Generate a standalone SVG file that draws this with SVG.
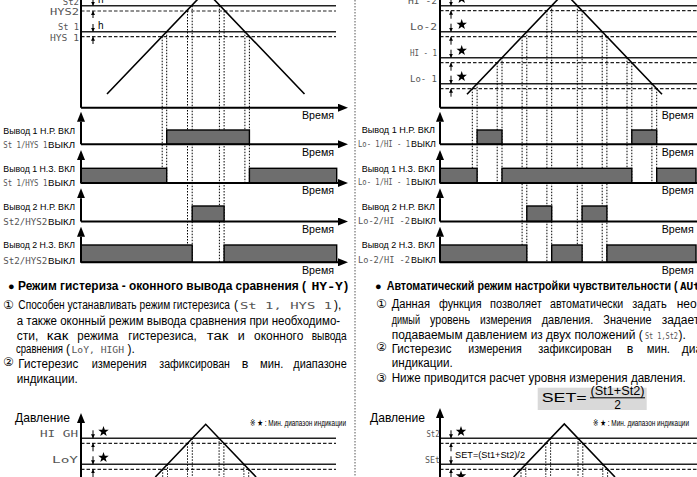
<svg xmlns="http://www.w3.org/2000/svg" width="697" height="477" viewBox="0 0 697 477">
<style>
.ax{stroke:#000;stroke-width:2;fill:none}
.lv{stroke:#222;stroke-width:1.4}
.ds{stroke:#222;stroke-width:1.2;stroke-dasharray:3.5 2}
.dt{stroke:#000;stroke-width:1;stroke-dasharray:1.5 1.5}
.box{fill:#6e6e6e;stroke:#000;stroke-width:1.4}
.tri{stroke:#000;stroke-width:1.6;fill:none}
.ha{stroke:#000;stroke-width:1}
.t{font-family:"Liberation Sans",Arial,"DejaVu Sans","Noto Sans CJK JP",sans-serif;fill:#000}
.p{font-size:12px}
.lb{font-size:9.5px}
.tm{font-size:10.5px}
.hd{font-size:12.5px;font-weight:bold}
.seg{font-family:"DejaVu Sans Mono",monospace;font-size:9px;fill:#555}
.segb{font-family:"DejaVu Sans Mono",monospace;font-size:11px;font-weight:bold;fill:#000}
</style>
<defs>
<marker id="ar" viewBox="0 0 10 8" refX="0" refY="4" markerWidth="10" markerHeight="8" markerUnits="userSpaceOnUse" orient="auto"><path d="M0,0 L10,4 L0,8 z" fill="#000"/></marker>
<marker id="sa" viewBox="0 0 4 4" refX="4" refY="2" markerWidth="4" markerHeight="4" markerUnits="userSpaceOnUse" orient="auto"><path d="M0,0 L4,2 L0,4 z" fill="#000"/></marker>
<path id="star" d="M0,-5.5 L1.29,-1.78 L5.23,-1.7 L2.09,0.68 L3.23,4.45 L0,2.2 L-3.23,4.45 L-2.09,0.68 L-5.23,-1.7 L-1.29,-1.78 Z" fill="#000"/>
</defs>
<rect width="697" height="477" fill="#fff"/>

<!-- separator -->
<line id="separator" x1="355" y1="0" x2="355" y2="477" stroke="#555" stroke-width="1" stroke-dasharray="1.5 1.5"/>

<!-- LEFT TOP CHART -->
<g id="left-top-chart">
<line class="lv" x1="81" y1="5.7" x2="336" y2="5.7"/>
<line class="ds" x1="81" y1="11" x2="336" y2="11"/>
<line class="lv" x1="81" y1="31.7" x2="336" y2="31.7"/>
<line class="ds" x1="81" y1="36.7" x2="336" y2="36.7"/>
<g class="dt">
<line x1="162.2" y1="36.7" x2="162.2" y2="183"/>
<line x1="166.7" y1="31.7" x2="166.7" y2="183"/>
<line x1="187.5" y1="11" x2="187.5" y2="262"/>
<line x1="192.2" y1="5.7" x2="192.2" y2="262"/>
<line x1="219.4" y1="5.7" x2="219.4" y2="262"/>
<line x1="224.1" y1="11" x2="224.1" y2="262"/>
<line x1="244.9" y1="31.7" x2="244.9" y2="183"/>
<line x1="249.4" y1="36.7" x2="249.4" y2="183"/>
</g>
<polyline class="tri" points="107,94 205.8,-9.2 304.5,94"/>
<line class="ax" x1="81" y1="107.7" x2="81" y2="-20"/>
<line class="ax" x1="81" y1="107.7" x2="338" y2="107.7" marker-end="url(#ar)"/>
<g class="ha">
<line x1="93" y1="-3" x2="93" y2="5.7" marker-end="url(#sa)"/>
<line x1="93" y1="18" x2="93" y2="11" marker-end="url(#sa)"/>
<line x1="93" y1="24" x2="93" y2="31.7" marker-end="url(#sa)"/>
<line x1="93" y1="44" x2="93" y2="36.7" marker-end="url(#sa)"/>
</g>
<text class="t" x="98" y="3" font-size="10">h</text>
<text class="t" x="98" y="29" font-size="10">h</text>
<text class="seg" x="79" y="5" text-anchor="end">St2</text>
<text class="seg" x="50" y="15" textLength="29" lengthAdjust="spacingAndGlyphs">HYS2</text>
<text class="seg" x="58" y="29.5" textLength="21" lengthAdjust="spacingAndGlyphs">St 1</text>
<text class="seg" x="50" y="40.5" textLength="29" lengthAdjust="spacingAndGlyphs">HYS 1</text>
<text class="t tm" x="302" y="119" textLength="32" lengthAdjust="spacingAndGlyphs">Время</text>
</g>

<!-- LEFT OUTPUT CHARTS -->
<g id="left-out1">
<rect class="box" x="166.7" y="130" width="82.7" height="14.3"/>
<line class="ax" x1="81" y1="144.3" x2="81" y2="121.7" marker-end="url(#ar)"/>
<line class="ax" x1="81" y1="144.3" x2="338" y2="144.3" marker-end="url(#ar)"/>
<text class="t lb" x="3.3" y="133.5" textLength="71.7" lengthAdjust="spacingAndGlyphs">Вывод 1 Н.Р. ВКЛ</text>
<text class="seg" x="3.3" y="147.5" textLength="44" lengthAdjust="spacingAndGlyphs">St 1/HYS 1</text>
<text class="t lb" x="48" y="147.5" textLength="27" lengthAdjust="spacingAndGlyphs">ВЫКЛ</text>
<text class="t tm" x="302" y="155.8" textLength="32" lengthAdjust="spacingAndGlyphs">Время</text>
</g>
<g id="left-out2">
<rect class="box" x="81" y="168.3" width="85.7" height="14.7"/>
<rect class="box" x="249.4" y="168.3" width="87.3" height="14.7"/>
<line class="ax" x1="81" y1="183" x2="81" y2="160" marker-end="url(#ar)"/>
<line class="ax" x1="81" y1="183" x2="338" y2="183" marker-end="url(#ar)"/>
<text class="t lb" x="3.3" y="171.5" textLength="71.7" lengthAdjust="spacingAndGlyphs">Вывод 1 Н.З. ВКЛ</text>
<text class="seg" x="3.3" y="186" textLength="44" lengthAdjust="spacingAndGlyphs">St 1/HYS 1</text>
<text class="t lb" x="48" y="186" textLength="27" lengthAdjust="spacingAndGlyphs">ВЫКЛ</text>
<text class="t tm" x="302" y="194.3" textLength="32" lengthAdjust="spacingAndGlyphs">Время</text>
</g>
<g id="left-out3">
<rect class="box" x="192.2" y="206" width="31.9" height="15.5"/>
<line class="ax" x1="81" y1="221.5" x2="81" y2="198.3" marker-end="url(#ar)"/>
<line class="ax" x1="81" y1="221.5" x2="338" y2="221.5" marker-end="url(#ar)"/>
<text class="t lb" x="3.3" y="209.5" textLength="71.7" lengthAdjust="spacingAndGlyphs">Вывод 2 Н.Р. ВКЛ</text>
<text class="seg" x="3.3" y="224.5" textLength="44" lengthAdjust="spacingAndGlyphs">St2/HYS2</text>
<text class="t lb" x="48" y="224.5" textLength="27" lengthAdjust="spacingAndGlyphs">ВЫКЛ</text>
<text class="t tm" x="302" y="232.8" textLength="32" lengthAdjust="spacingAndGlyphs">Время</text>
</g>
<g id="left-out4">
<rect class="box" x="81" y="245" width="111.2" height="17.3"/>
<rect class="box" x="224.1" y="245" width="112.6" height="17.3"/>
<line class="ax" x1="81" y1="262.3" x2="81" y2="236.7" marker-end="url(#ar)"/>
<line class="ax" x1="81" y1="262.3" x2="338" y2="262.3" marker-end="url(#ar)"/>
<text class="t lb" x="3.3" y="248" textLength="71.7" lengthAdjust="spacingAndGlyphs">Вывод 2 Н.З. ВКЛ</text>
<text class="seg" x="3.3" y="264" textLength="44" lengthAdjust="spacingAndGlyphs">St2/HYS2</text>
<text class="t lb" x="48" y="264" textLength="27" lengthAdjust="spacingAndGlyphs">ВЫКЛ</text>
<text class="t tm" x="302" y="273.6" textLength="32" lengthAdjust="spacingAndGlyphs">Время</text>
</g>

<!-- LEFT TEXT -->
<g id="left-text">
<text class="t" x="8" y="290" font-size="11">●</text>
<text class="t hd" x="18" y="290" textLength="288" lengthAdjust="spacingAndGlyphs">Режим гистериза - оконного вывода сравнения (</text>
<text class="segb" x="311.5" y="290" textLength="31.5" lengthAdjust="spacingAndGlyphs">HY-Y</text>
<text class="t hd" x="344" y="290">)</text>

<text class="t p" x="3" y="309">①</text>
<text class="t p" x="18.3" y="309" textLength="211.7" lengthAdjust="spacingAndGlyphs">Способен устанавливать режим гистерезиса</text>
<text class="t p" x="234" y="309">(</text>
<text class="seg" x="240" y="309" textLength="92" lengthAdjust="spacingAndGlyphs">St 1, HYS 1</text>
<text class="t p" x="334" y="309">),</text>
<text class="t p" x="16.7" y="325" textLength="323.5" lengthAdjust="spacingAndGlyphs">а также оконный режим вывода сравнения при необходимо-</text>
<text class="t p" y="340"><tspan x="16.7" textLength="21.6" lengthAdjust="spacingAndGlyphs">сти,</tspan><tspan x="46.7" textLength="21.6" lengthAdjust="spacingAndGlyphs">как</tspan><tspan x="77.3" textLength="41" lengthAdjust="spacingAndGlyphs">режима</tspan><tspan x="128.3" textLength="68.4" lengthAdjust="spacingAndGlyphs">гистерезиса,</tspan><tspan x="206.7" textLength="21.6" lengthAdjust="spacingAndGlyphs">так</tspan><tspan x="237.7" textLength="7" lengthAdjust="spacingAndGlyphs">и</tspan><tspan x="254" textLength="49.3" lengthAdjust="spacingAndGlyphs">оконного</tspan><tspan x="311.7" textLength="35" lengthAdjust="spacingAndGlyphs">вывода</tspan></text>
<text class="t p" x="16" y="352.7" textLength="47" lengthAdjust="spacingAndGlyphs">сравнения</text>
<text class="t p" x="66" y="352.7">(</text>
<text class="seg" x="71.5" y="352.7" textLength="52.5" lengthAdjust="spacingAndGlyphs">LoY, HIGH</text>
<text class="t p" x="127.5" y="352.7">).</text>
<text class="t p" x="3" y="366">②</text>
<text class="t p" y="368.3"><tspan x="18.3" textLength="60" lengthAdjust="spacingAndGlyphs">Гистерезис</tspan><tspan x="91.7" textLength="55" lengthAdjust="spacingAndGlyphs">измерения</tspan><tspan x="159.3" textLength="70.7" lengthAdjust="spacingAndGlyphs">зафиксирован</tspan><tspan x="241.7" textLength="6.6" lengthAdjust="spacingAndGlyphs">в</tspan><tspan x="260" textLength="23.3" lengthAdjust="spacingAndGlyphs">мин.</tspan><tspan x="293.3" textLength="53.4" lengthAdjust="spacingAndGlyphs">диапазоне</tspan></text>
<text class="t p" x="16.7" y="382.7" textLength="61" lengthAdjust="spacingAndGlyphs">индикации.</text>
</g>

<!-- LEFT BOTTOM CHART -->
<g id="left-bottom-chart">
<line class="lv" x1="81" y1="438.3" x2="336" y2="438.3"/>
<line class="ds" x1="81" y1="443.3" x2="336" y2="443.3"/>
<line class="lv" x1="81" y1="464.3" x2="336" y2="464.3"/>
<line class="ds" x1="81" y1="469.3" x2="336" y2="469.3"/>
<g class="dt">
<line x1="162.7" y1="469.3" x2="162.7" y2="477"/>
<line x1="167.5" y1="464.3" x2="167.5" y2="477"/>
<line x1="187.5" y1="443.3" x2="187.5" y2="477"/>
<line x1="192.3" y1="438.3" x2="192.3" y2="477"/>
<line x1="219.1" y1="438.3" x2="219.1" y2="477"/>
<line x1="223.9" y1="443.3" x2="223.9" y2="477"/>
<line x1="243.9" y1="464.3" x2="243.9" y2="477"/>
<line x1="248.7" y1="469.3" x2="248.7" y2="477"/>
</g>
<polyline class="tri" points="155.3,477 205.7,424.3 256.1,477"/>
<line class="ax" x1="81" y1="480" x2="81" y2="423" marker-end="url(#ar)"/>
<g class="ha">
<line x1="93" y1="430.3" x2="93" y2="438.3" marker-end="url(#sa)"/>
<line x1="93" y1="451.3" x2="93" y2="443.3" marker-end="url(#sa)"/>
<line x1="93" y1="456.3" x2="93" y2="464.3" marker-end="url(#sa)"/>
<line x1="93" y1="477.3" x2="93" y2="469.3" marker-end="url(#sa)"/>
</g>
<use href="#star" x="103.5" y="431.5"/>
<use href="#star" x="103.5" y="457.5"/>
<text class="t" x="15" y="421.7" font-size="13.5" textLength="55" lengthAdjust="spacingAndGlyphs">Давление</text>
<text class="t" x="250" y="425.7" font-size="9" textLength="96" lengthAdjust="spacingAndGlyphs">※ ★ : Мин. диапазон индикации</text>
<text class="seg" x="40" y="437" textLength="38" lengthAdjust="spacingAndGlyphs">HI GH</text>
<text class="seg" x="52" y="463" textLength="26" lengthAdjust="spacingAndGlyphs">LoY</text>
</g>

<!-- RIGHT TOP CHART -->
<g id="right-top-chart">
<line class="lv" x1="440" y1="5.7" x2="700" y2="5.7"/>
<line class="ds" x1="440" y1="10.7" x2="700" y2="10.7"/>
<line class="lv" x1="440" y1="31.7" x2="700" y2="31.7"/>
<line class="ds" x1="440" y1="36.7" x2="700" y2="36.7"/>
<line class="lv" x1="440" y1="57.7" x2="700" y2="57.7"/>
<line class="ds" x1="440" y1="62.7" x2="700" y2="62.7"/>
<line class="lv" x1="440" y1="83.7" x2="700" y2="83.7"/>
<line class="ds" x1="440" y1="88.7" x2="700" y2="88.7"/>
<g class="dt">
<line x1="472.3" y1="88.7" x2="472.3" y2="183"/>
<line x1="477.1" y1="83.7" x2="477.1" y2="183"/>
<line x1="497.2" y1="62.7" x2="497.2" y2="183"/>
<line x1="502" y1="57.7" x2="502" y2="183"/>
<line x1="522.1" y1="36.7" x2="522.1" y2="262"/>
<line x1="526.8" y1="31.7" x2="526.8" y2="262"/>
<line x1="546.9" y1="10.7" x2="546.9" y2="262"/>
<line x1="551.7" y1="5.7" x2="551.7" y2="262"/>
<line x1="577.3" y1="5.7" x2="577.3" y2="262"/>
<line x1="582.1" y1="10.7" x2="582.1" y2="262"/>
<line x1="602.2" y1="31.7" x2="602.2" y2="262"/>
<line x1="606.9" y1="36.7" x2="606.9" y2="262"/>
<line x1="627" y1="57.7" x2="627" y2="183"/>
<line x1="631.8" y1="62.7" x2="631.8" y2="183"/>
<line x1="651.9" y1="83.7" x2="651.9" y2="183"/>
<line x1="656.7" y1="88.7" x2="656.7" y2="183"/>
</g>
<polyline class="tri" points="467,94.3 564.5,-7.7 662,94.3"/>
<line class="ax" x1="440" y1="107.7" x2="440" y2="-20"/>
<line class="ax" x1="440" y1="107.7" x2="705" y2="107.7"/>
<g class="ha">
<line x1="451" y1="-2.3" x2="451" y2="5.7" marker-end="url(#sa)"/>
<line x1="451" y1="18.7" x2="451" y2="10.7" marker-end="url(#sa)"/>
<line x1="451" y1="23.7" x2="451" y2="31.7" marker-end="url(#sa)"/>
<line x1="451" y1="44.7" x2="451" y2="36.7" marker-end="url(#sa)"/>
<line x1="451" y1="49.7" x2="451" y2="57.7" marker-end="url(#sa)"/>
<line x1="451" y1="70.7" x2="451" y2="62.7" marker-end="url(#sa)"/>
<line x1="451" y1="75.7" x2="451" y2="83.7" marker-end="url(#sa)"/>
<line x1="451" y1="96.7" x2="451" y2="88.7" marker-end="url(#sa)"/>
</g>
<use href="#star" x="461.7" y="-1.5"/>
<use href="#star" x="461.7" y="24.5"/>
<use href="#star" x="461.7" y="50.5"/>
<use href="#star" x="461.7" y="76.5"/>
<text class="seg" x="408" y="4" textLength="29" lengthAdjust="spacingAndGlyphs">HI -2</text>
<text class="seg" x="410" y="30" textLength="27" lengthAdjust="spacingAndGlyphs">Lo-2</text>
<text class="seg" x="410" y="56" textLength="27" lengthAdjust="spacingAndGlyphs">HI - 1</text>
<text class="seg" x="410" y="82" textLength="27" lengthAdjust="spacingAndGlyphs">Lo- 1</text>
<text class="t tm" x="661.7" y="119" textLength="32" lengthAdjust="spacingAndGlyphs">Время</text>
</g>

<!-- RIGHT OUTPUT CHARTS -->
<g id="right-out1">
<rect class="box" x="477.1" y="130" width="24.9" height="14.3"/>
<rect class="box" x="631.8" y="130" width="24.9" height="14.3"/>
<line class="ax" x1="440" y1="144.3" x2="440" y2="121.7" marker-end="url(#ar)"/>
<line class="ax" x1="440" y1="144.3" x2="705" y2="144.3"/>
<text class="t lb" x="361.7" y="133" textLength="73.3" lengthAdjust="spacingAndGlyphs">Вывод 1 Н.Р. ВКЛ</text>
<text class="seg" x="358" y="146.5" textLength="52" lengthAdjust="spacingAndGlyphs">Lo- 1/HI - 1</text>
<text class="t lb" x="411" y="146.5" textLength="25" lengthAdjust="spacingAndGlyphs">ВЫКЛ</text>
<text class="t tm" x="661.7" y="155.8" textLength="32" lengthAdjust="spacingAndGlyphs">Время</text>
</g>
<g id="right-out2">
<rect class="box" x="440" y="168.3" width="37.1" height="14.7"/>
<rect class="box" x="502" y="168.3" width="129.8" height="14.7"/>
<rect class="box" x="656.7" y="168.3" width="39.3" height="14.7"/>
<line class="ax" x1="440" y1="183" x2="440" y2="160" marker-end="url(#ar)"/>
<line class="ax" x1="440" y1="183" x2="705" y2="183"/>
<text class="t lb" x="361.7" y="171.5" textLength="73.3" lengthAdjust="spacingAndGlyphs">Вывод 1 Н.З. ВКЛ</text>
<text class="seg" x="358" y="185" textLength="52" lengthAdjust="spacingAndGlyphs">Lo- 1/HI - 1</text>
<text class="t lb" x="411" y="185" textLength="25" lengthAdjust="spacingAndGlyphs">ВЫКЛ</text>
<text class="t tm" x="661.7" y="194.3" textLength="32" lengthAdjust="spacingAndGlyphs">Время</text>
</g>
<g id="right-out3">
<rect class="box" x="526.8" y="206" width="24.9" height="15.5"/>
<rect class="box" x="582.1" y="206" width="24.8" height="15.5"/>
<line class="ax" x1="440" y1="221.5" x2="440" y2="198.3" marker-end="url(#ar)"/>
<line class="ax" x1="440" y1="221.5" x2="705" y2="221.5"/>
<text class="t lb" x="361.7" y="209.5" textLength="73.3" lengthAdjust="spacingAndGlyphs">Вывод 2 Н.Р. ВКЛ</text>
<text class="seg" x="358" y="223.5" textLength="52" lengthAdjust="spacingAndGlyphs">Lo-2/HI -2</text>
<text class="t lb" x="411" y="223.5" textLength="25" lengthAdjust="spacingAndGlyphs">ВЫКЛ</text>
<text class="t tm" x="661.7" y="232.8" textLength="32" lengthAdjust="spacingAndGlyphs">Время</text>
</g>
<g id="right-out4">
<rect class="box" x="440" y="245" width="86.8" height="17.3"/>
<rect class="box" x="551.7" y="245" width="30.4" height="17.3"/>
<rect class="box" x="606.9" y="245" width="89.1" height="17.3"/>
<line class="ax" x1="440" y1="262.3" x2="440" y2="236.7" marker-end="url(#ar)"/>
<line class="ax" x1="440" y1="262.3" x2="705" y2="262.3"/>
<text class="t lb" x="361.7" y="248" textLength="73.3" lengthAdjust="spacingAndGlyphs">Вывод 2 Н.З. ВКЛ</text>
<text class="seg" x="358" y="263" textLength="52" lengthAdjust="spacingAndGlyphs">Lo-2/HI -2</text>
<text class="t lb" x="411" y="263" textLength="25" lengthAdjust="spacingAndGlyphs">ВЫКЛ</text>
<text class="t tm" x="661.7" y="273.6" textLength="32" lengthAdjust="spacingAndGlyphs">Время</text>
</g>

<!-- RIGHT TEXT -->
<g id="right-text">
<text class="t" x="375" y="290" font-size="11">●</text>
<text class="t hd" x="386.7" y="290" textLength="291" lengthAdjust="spacingAndGlyphs">Автоматический режим настройки чувствительности (</text>
<text class="segb" x="680" y="290">AUto)</text>
<text class="t p" x="376" y="308.3">①</text>
<text class="t p" y="308.3"><tspan x="391.7" textLength="38.3" lengthAdjust="spacingAndGlyphs">Данная</tspan><tspan x="439" textLength="42.7" lengthAdjust="spacingAndGlyphs">функция</tspan><tspan x="490" textLength="51.7" lengthAdjust="spacingAndGlyphs">позволяет</tspan><tspan x="550" textLength="73.3" lengthAdjust="spacingAndGlyphs">автоматически</tspan><tspan x="632.3" textLength="34.4" lengthAdjust="spacingAndGlyphs">задать</tspan><tspan x="676.7">необхо-</tspan></text>
<text class="t p" y="324"><tspan x="391.7" textLength="28.3" lengthAdjust="spacingAndGlyphs">димый</tspan><tspan x="430" textLength="40" lengthAdjust="spacingAndGlyphs">уровень</tspan><tspan x="480" textLength="51.7" lengthAdjust="spacingAndGlyphs">измерения</tspan><tspan x="541.7" textLength="51.6" lengthAdjust="spacingAndGlyphs">давления.</tspan><tspan x="603.3" textLength="48.4" lengthAdjust="spacingAndGlyphs">Значение</tspan><tspan x="661.7">задается</tspan></text>
<text class="t p" x="391.7" y="339" textLength="251" lengthAdjust="spacingAndGlyphs">подаваемым давлением из двух положений (</text>
<text class="seg" x="645" y="339" textLength="33" lengthAdjust="spacingAndGlyphs">St 1,St2</text>
<text class="t p" x="678.5" y="339">).</text>
<text class="t p" x="376" y="351">②</text>
<text class="t p" y="352.7"><tspan x="391.7" textLength="60" lengthAdjust="spacingAndGlyphs">Гистерезис</tspan><tspan x="468.3" textLength="53.4" lengthAdjust="spacingAndGlyphs">измерения</tspan><tspan x="538.3" textLength="73.4" lengthAdjust="spacingAndGlyphs">зафиксирован</tspan><tspan x="626.7" textLength="6.6" lengthAdjust="spacingAndGlyphs">в</tspan><tspan x="646.7" textLength="23.3" lengthAdjust="spacingAndGlyphs">мин.</tspan><tspan x="681.7">диапазоне</tspan></text>
<text class="t p" x="391.7" y="367.3" textLength="61" lengthAdjust="spacingAndGlyphs">индикации.</text>
<text class="t p" x="376" y="382.3">③</text>
<text class="t p" x="391.7" y="382.3" textLength="294" lengthAdjust="spacingAndGlyphs">Ниже приводится расчет уровня измерения давления.</text>
</g>

<!-- FORMULA -->
<g id="formula">
<rect x="537.7" y="387.7" width="109" height="22.3" fill="#d9d9d9"/>
<text class="t" x="541.7" y="401.5" font-size="13.5" textLength="45" lengthAdjust="spacingAndGlyphs">SET=</text>
<text class="t" x="617.5" y="395.3" font-size="12" text-anchor="middle" textLength="54" lengthAdjust="spacingAndGlyphs">(St1+St2)</text>
<line x1="590" y1="397.8" x2="645" y2="397.8" stroke="#000" stroke-width="1"/>
<text class="t" x="617.5" y="408.8" font-size="12" text-anchor="middle">2</text>
</g>

<!-- RIGHT BOTTOM CHART -->
<g id="right-bottom-chart">
<line class="lv" x1="440" y1="438.3" x2="700" y2="438.3"/>
<line class="ds" x1="440" y1="443.3" x2="700" y2="443.3"/>
<line class="lv" x1="440" y1="464.3" x2="700" y2="464.3"/>
<line class="ds" x1="440" y1="469.3" x2="700" y2="469.3"/>
<g class="dt">
<line x1="521" y1="469.3" x2="521" y2="477"/>
<line x1="525.8" y1="464.3" x2="525.8" y2="477"/>
<line x1="545.8" y1="443.3" x2="545.8" y2="477"/>
<line x1="550.6" y1="438.3" x2="550.6" y2="477"/>
<line x1="578" y1="438.3" x2="578" y2="477"/>
<line x1="582.8" y1="443.3" x2="582.8" y2="477"/>
<line x1="602.8" y1="464.3" x2="602.8" y2="477"/>
<line x1="607.6" y1="469.3" x2="607.6" y2="477"/>
</g>
<polyline class="tri" points="513.6,477 564.3,424 615,477"/>
<line class="ax" x1="440" y1="480" x2="440" y2="418" marker-end="url(#ar)"/>
<g class="ha">
<line x1="451" y1="430.3" x2="451" y2="438.3" marker-end="url(#sa)"/>
<line x1="451" y1="451.3" x2="451" y2="443.3" marker-end="url(#sa)"/>
<line x1="451" y1="456.3" x2="451" y2="464.3" marker-end="url(#sa)"/>
<line x1="451" y1="477.3" x2="451" y2="469.3" marker-end="url(#sa)"/>
</g>
<use href="#star" x="461" y="431.5"/>
<use href="#star" x="461" y="476"/>
<text class="t" x="370" y="421.7" font-size="13.5" textLength="55" lengthAdjust="spacingAndGlyphs">Давление</text>
<text class="t" x="593" y="425.7" font-size="9" textLength="96" lengthAdjust="spacingAndGlyphs">※ ★ : Мин. диапазон индикации</text>
<text class="seg" x="426.5" y="437" textLength="13" lengthAdjust="spacingAndGlyphs">St2</text>
<text class="seg" x="425" y="463" textLength="15" lengthAdjust="spacingAndGlyphs">SEt</text>
<text class="t" x="455" y="458.3" font-size="8.5" textLength="70" lengthAdjust="spacingAndGlyphs">SET=(St1+St2)/2</text>
</g>
</svg>
